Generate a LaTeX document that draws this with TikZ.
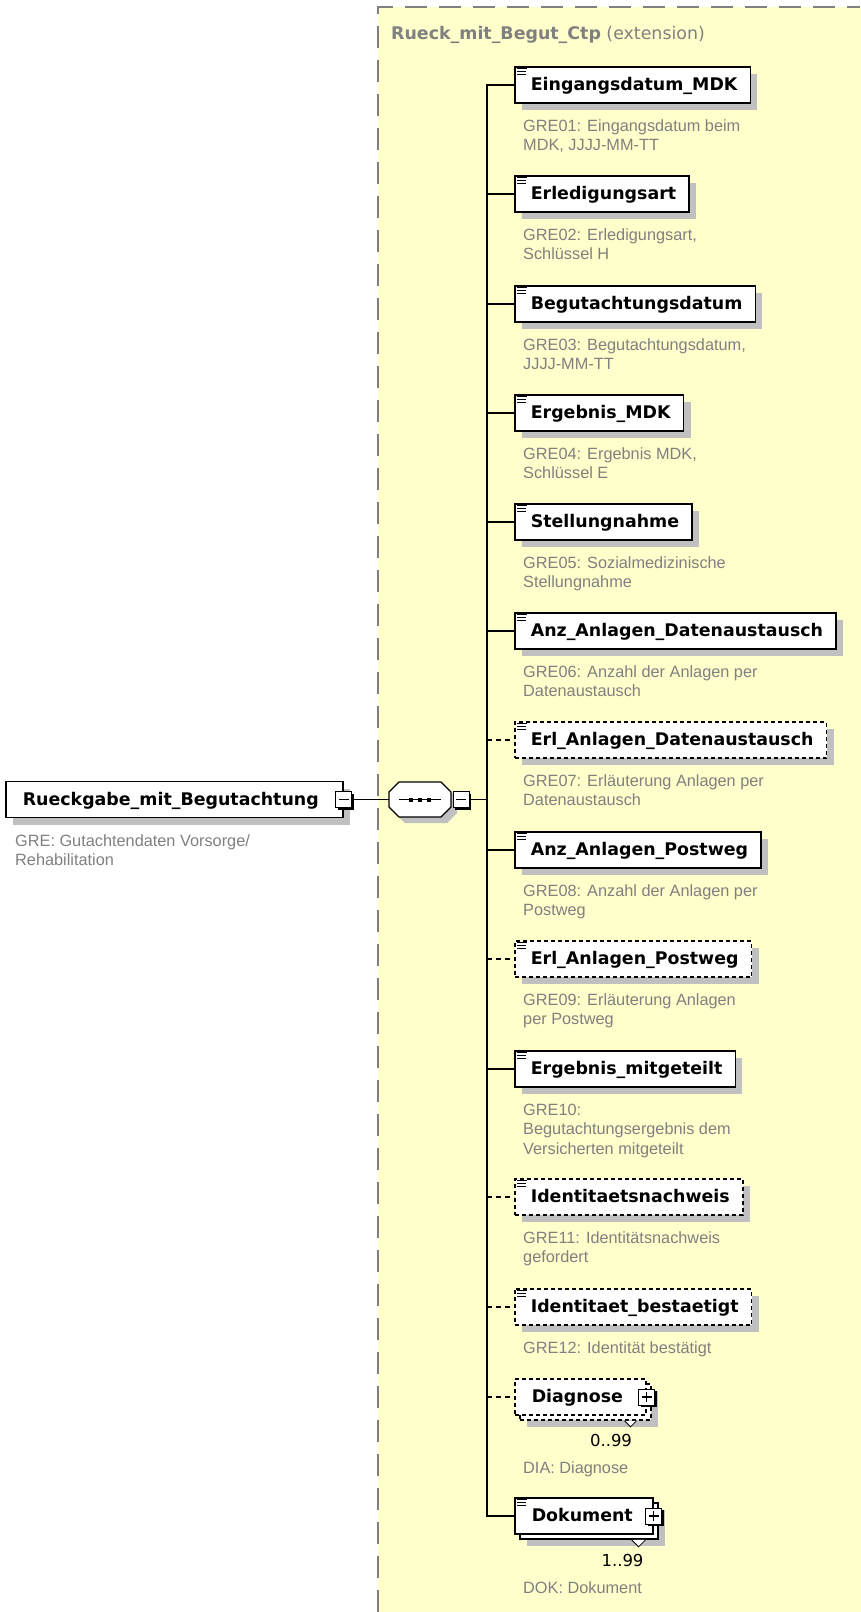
\documentclass[tikz,border=0pt]{standalone}
\usepackage{fontspec}
\setmainfont{DejaVu Sans}
\newfontfamily\descfont{Liberation Sans}
\usetikzlibrary{shadows}
\definecolor{ylw}{RGB}{255,255,204}
\definecolor{shd}{RGB}{192,192,192}
\definecolor{dsc}{RGB}{128,128,128}
\newcommand{\lblfont}{\fontsize{17.4}{20}\selectfont\bfseries}
\newcommand{\xsdicon}[1]{\draw[line width=0.9pt] ([shift={(3,2.5)}]#1.north west) -- ++(10,0) ([shift={(3,5.5)}]#1.north west) -- ++(9,0) ([shift={(3,8.5)}]#1.north west) -- ++(9,0);}
\tikzset{
 base/.style={draw=black, line width=1.6pt, fill=white, anchor=west, minimum height=36pt, inner xsep=0pt, inner ysep=0pt, text height=13pt, text depth=2pt, font=\lblfont},
 elem/.style={base, general shadow={fill=shd, shadow xshift=7pt, shadow yshift=-7pt}},
 optb/.style={dash pattern=on 4pt off 3pt},
 conn/.style={draw=black, line width=1.3pt},
 optc/.style={dash pattern=on 5pt off 4pt},
 pm/.style={draw=black, fill=white, line width=1pt, minimum size=16pt, inner sep=0pt, general shadow={fill=black, shadow xshift=2pt, shadow yshift=-2pt}},
 minus/.style={pm, path picture={\draw[line width=1.2pt] ([xshift=-5pt]path picture bounding box.center) -- ([xshift=5pt]path picture bounding box.center);}},
 plus/.style={pm, path picture={\draw[line width=1.2pt] ([xshift=-5pt]path picture bounding box.center) -- ([xshift=5pt]path picture bounding box.center) ([yshift=-5pt]path picture bounding box.center) -- ([yshift=5pt]path picture bounding box.center);}},
 desc/.style={anchor=north west, inner sep=0pt, align=left, text=dsc, font=\descfont\fontsize{16.3}{19.5}\selectfont},
 mult/.style={anchor=base, inner sep=0pt, font=\fontsize{16.5}{19}\selectfont},
}
\begin{document}
\begin{tikzpicture}[x=1pt,y=-1pt]
\useasboundingbox (0,0) rectangle (860,1612);
% extension region
\fill[ylw] (378,7) rectangle (862,1614);
\draw[dsc, line width=1.5pt, dash pattern=on 22pt off 12pt] (378,1612) -- (378,7) -- (860,7);
\node[anchor=base west, inner sep=0pt, text=dsc, font=\fontsize{17.4}{20}\selectfont] (title) at (391,39.5) {\textbf{Rueck\_mit\_Begut\_Ctp} (extension)};

% root element
\node[elem] (root) at (5,799.5) {\hspace*{17pt}Rueckgabe\_mit\_Begutachtung\hspace*{24pt}};
\node[minus] (rootpm) at (root.east) {};
\node[desc] (d0) at (15,832.35) {\strut GRE: Gutachtendaten Vorsorge/\\Rehabilitation};

% sequence compositor
\fill[shd] (405,788) -- (447,788) -- (457,798) -- (457,813) -- (447,823) -- (405,823) -- (395,813) -- (395,798) -- cycle;
\filldraw[fill=white, draw=black, line width=1.3pt] (399,782) -- (441,782) -- (451,792) -- (451,807) -- (441,817) -- (399,817) -- (389,807) -- (389,792) -- cycle;
\node[minimum width=62pt, minimum height=35pt, inner sep=0pt] (seq) at (420,799.5) {};
\draw[line width=1.3pt] ([xshift=-21pt]seq.center) -- ([xshift=21pt]seq.center);
\fill ([shift={(-11,-2)}]seq.center) rectangle ++(4,4);
\fill ([shift={(-2,-2)}]seq.center) rectangle ++(4,4);
\fill ([shift={(7,-2)}]seq.center) rectangle ++(4,4);
\node[minus] (seqpm) at (461,799.5) {};
\draw[conn] (rootpm.east) -- (seq.west);

% junctions
\coordinate (jm) at (487,799.5);
\coordinate (j1) at (487,85);
\coordinate (j2) at (487,194);
\coordinate (j3) at (487,304);
\coordinate (j4) at (487,413);
\coordinate (j5) at (487,522);
\coordinate (j6) at (487,631);
\coordinate (j7) at (487,740);
\coordinate (j8) at (487,850);
\coordinate (j9) at (487,959);
\coordinate (j10) at (487,1069);
\coordinate (j11) at (487,1197);
\coordinate (j12) at (487,1307);
\coordinate (j13) at (487,1397);
\coordinate (j14) at (487,1516);
\draw[conn] (seqpm.east) -- (jm);

% child elements
\node[elem] (e1) at (514,85) {\hspace*{16pt}Eingangsdatum\_MDK\hspace*{13pt}};
\node[elem] (e2) at (514,194) {\hspace*{16pt}Erledigungsart\hspace*{13pt}};
\node[elem] (e3) at (514,304) {\hspace*{16pt}Begutachtungsdatum\hspace*{13pt}};
\node[elem] (e4) at (514,413) {\hspace*{16pt}Ergebnis\_MDK\hspace*{13pt}};
\node[elem] (e5) at (514,522) {\hspace*{16pt}Stellungnahme\hspace*{13pt}};
\node[elem] (e6) at (514,631) {\hspace*{16pt}Anz\_Anlagen\_Datenaustausch\hspace*{13pt}};
\node[elem, optb] (e7) at (514,740) {\hspace*{16pt}Erl\_Anlagen\_Datenaustausch\hspace*{13pt}};
\node[elem] (e8) at (514,850) {\hspace*{16pt}Anz\_Anlagen\_Postweg\hspace*{13pt}};
\node[elem, optb] (e9) at (514,959) {\hspace*{16pt}Erl\_Anlagen\_Postweg\hspace*{13pt}};
\node[elem] (e10) at (514,1069) {\hspace*{16pt}Ergebnis\_mitgeteilt\hspace*{13pt}};
\node[elem, optb] (e11) at (514,1197) {\hspace*{16pt}Identitaetsnachweis\hspace*{13pt}};
\node[elem, optb] (e12) at (514,1307) {\hspace*{16pt}Identitaet\_bestaetigt\hspace*{13pt}};
\foreach \n in {e1,e2,e3,e4,e5,e6,e7,e8,e9,e10,e11,e12} {\xsdicon{\n}}

% Diagnose (stacked, optional)
\node[elem, optb, minimum width=131pt] (e13b) at (519,1402) {};
\node[base, optb] (e13) at (514,1397) {\makebox[131pt][l]{\hspace*{17pt}Diagnose}};
\filldraw[fill=white, draw=black, line width=0.8pt] ([xshift=-27pt]e13b.south east) -- ++(6,6) -- ++(6,-6);
\node[plus] (e13pm) at (e13.east) {};
\node[mult] (m13) at (611,1446) {0..99};

% Dokument (stacked)
\node[elem, minimum width=138pt] (e14b) at (519,1521) {};
\node[base] (e14) at (514,1516) {\makebox[138pt][l]{\hspace*{17pt}Dokument}};
\xsdicon{e14}
\filldraw[fill=white, draw=black, line width=0.8pt] ([xshift=-27pt]e14b.south east) -- ++(7,7) -- ++(7,-7);
\node[plus] (e14pm) at (e14.east) {};
\node[mult] (m14) at (622.5,1566) {1..99};

% connectors
\draw[conn] (e1.west) -- (j1) -- (j14) -- (e14.west);
\draw[conn] (j2) -- (e2.west);
\draw[conn] (j3) -- (e3.west);
\draw[conn] (j4) -- (e4.west);
\draw[conn] (j5) -- (e5.west);
\draw[conn] (j6) -- (e6.west);
\draw[conn, optc] (j7) -- (e7.west);
\draw[conn] (j8) -- (e8.west);
\draw[conn, optc] (j9) -- (e9.west);
\draw[conn] (j10) -- (e10.west);
\draw[conn, optc] (j11) -- (e11.west);
\draw[conn, optc] (j12) -- (e12.west);
\draw[conn, optc] (j13) -- (e13.west);

% descriptions
\node[desc] (d1) at (523,117.35) {\strut GRE01: Eingangsdatum beim\\MDK, JJJJ-MM-TT};
\node[desc] (d2) at (523,226.35) {\strut GRE02: Erledigungsart,\\Schlüssel H};
\node[desc] (d3) at (523,336.35) {\strut GRE03: Begutachtungsdatum,\\JJJJ-MM-TT};
\node[desc] (d4) at (523,445.35) {\strut GRE04: Ergebnis MDK,\\Schlüssel E};
\node[desc] (d5) at (523,554.35) {\strut GRE05: Sozialmedizinische\\Stellungnahme};
\node[desc] (d6) at (523,663.35) {\strut GRE06: Anzahl der Anlagen per\\Datenaustausch};
\node[desc] (d7) at (523,772.35) {\strut GRE07: Erläuterung Anlagen per\\Datenaustausch};
\node[desc] (d8) at (523,882.35) {\strut GRE08: Anzahl der Anlagen per\\Postweg};
\node[desc] (d9) at (523,991.35) {\strut GRE09: Erläuterung Anlagen\\per Postweg};
\node[desc] (d10) at (523,1101.35) {\strut GRE10:\\Begutachtungsergebnis dem\\Versicherten mitgeteilt};
\node[desc] (d11) at (523,1229.35) {\strut GRE11: Identitätsnachweis\\gefordert};
\node[desc] (d12) at (523,1339.35) {\strut GRE12: Identität bestätigt};
\node[desc, anchor=base west] (d13) at (523,1473) {DIA: Diagnose};
\node[desc, anchor=base west] (d14) at (523,1593) {DOK: Dokument};
\end{tikzpicture}
\end{document}
